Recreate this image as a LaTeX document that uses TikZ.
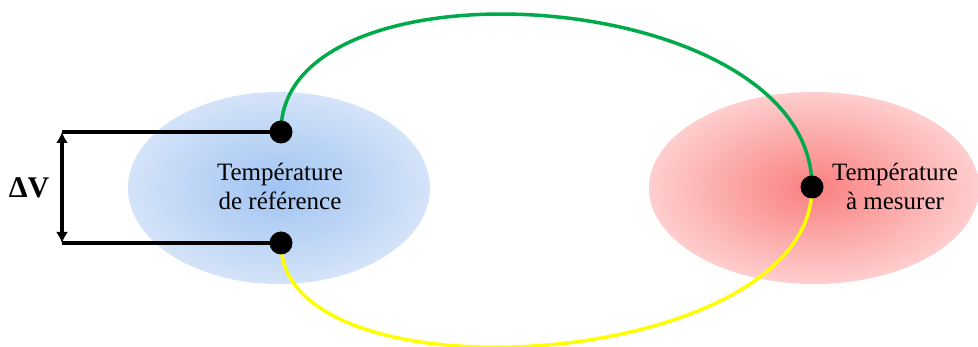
\documentclass[tikz,border=0pt]{standalone}
\usepackage{fontspec}
\setmainfont{Liberation Serif}
\usepackage{tikz}
\usetikzlibrary{shapes.geometric,arrows.meta}

\definecolor{refin}{RGB}{160,196,242}
\definecolor{refout}{RGB}{212,227,248}
\definecolor{mesin}{RGB}{250,128,128}
\definecolor{mesout}{RGB}{254,206,206}
\definecolor{wiregreen}{RGB}{0,170,75}
\definecolor{wireyellow}{RGB}{255,255,0}

\tikzset{
  zone/.style={ellipse, inner sep=0pt},
  dot/.style={circle, fill=black, minimum size=23pt, inner sep=0pt},
  lbl/.style={align=center, font=\fontsize{25}{29}\selectfont},
  wire/.style={line width=3.5pt}
}

\begin{document}
\begin{tikzpicture}[x=1pt, y=-1pt]
\useasboundingbox (0,0) rectangle (978,347);
\node[zone, minimum width=302pt, minimum height=192pt, inner color=refin, outer color=refout] (ref) at (279,188) {};
\node[zone, minimum width=330pt, minimum height=192pt, inner color=mesin, outer color=mesout] (mes) at (814,188) {};
\node[lbl] (reftxt) at (280,186) {Température\\de référence};
\node[lbl] (mestxt) at (895,186) {Température\\à mesurer};
\coordinate (ref1) at (281,132);
\coordinate (ref2) at (281,243);
\coordinate (mes1) at (812,187);
\coordinate (vtop) at (62,132);
\coordinate (vbot) at (62,243);
\draw[wire, wiregreen] (ref1) .. controls (280,-48) and (812,-16) .. (mes1);
\draw[wire, wireyellow] (ref2) .. controls (280,405) and (812,372) .. (mes1);
\draw[wire] (vtop) -- (ref1);
\draw[wire] (vbot) -- (ref2);
\draw[wire, {Latex[length=11pt,width=12pt]}-{Latex[length=11pt,width=12pt]}] (vtop) -- (vbot);
\node[font=\fontsize{30}{34}\selectfont\bfseries] (dv) at (29,188) {ΔV};
\node[dot] (r1) at (ref1) {};
\node[dot] (r2) at (ref2) {};
\node[dot] (m1) at (mes1) {};
\end{tikzpicture}
\end{document}
